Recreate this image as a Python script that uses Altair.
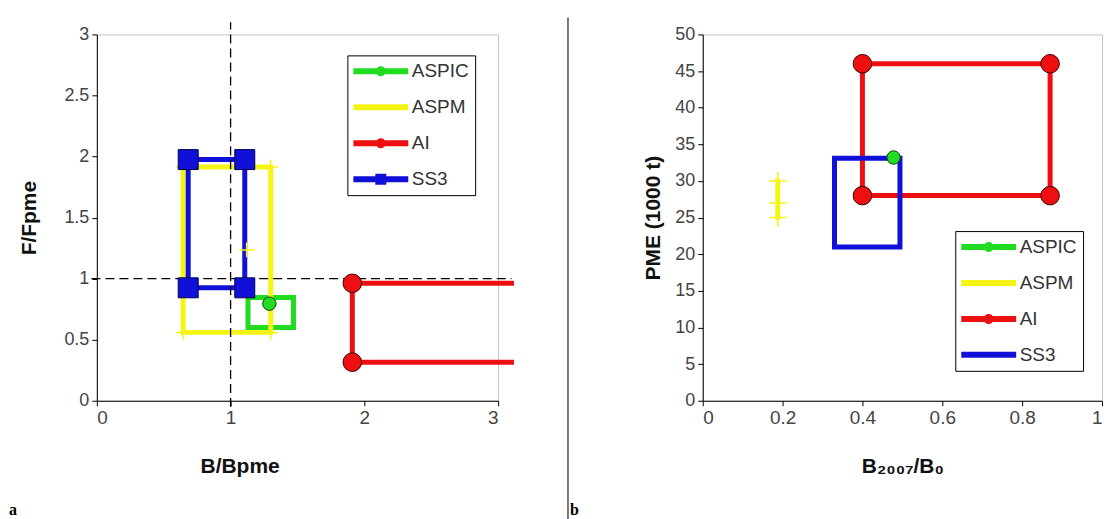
import altair as alt
import pandas as pd

# ---------------- shared ----------------
SERIES = ["ASPIC", "ASPM", "AI", "SS3"]
COLORS = ["#22dc22", "#f5f515", "#ee1010", "#1010d8"]
FONT = "Liberation Sans"

# ---------------- panel a : F/Fpme vs B/Bpme ----------------
A_ASPIC_BOX_X = [1.13, 1.47, 1.47, 1.13, 1.13]
A_ASPIC_BOX_Y = [0.845, 0.845, 0.60, 0.60, 0.845]
A_ASPIC_PT_X = [1.29]
A_ASPIC_PT_Y = [0.795]

A_ASPM_BOX_X = [0.645, 1.30, 1.30, 0.645, 0.645]
A_ASPM_BOX_Y = [1.915, 1.915, 0.56, 0.56, 1.915]
A_ASPM_PT_X = [0.645, 1.30, 1.30, 0.645, 1.12]
A_ASPM_PT_Y = [1.915, 1.915, 0.56, 0.56, 1.235]

A_AI_LINE_X = [3.10, 1.91, 1.91, 3.10]
A_AI_LINE_Y = [0.962, 0.962, 0.316, 0.316]
A_AI_PT_X = [1.91, 1.91]
A_AI_PT_Y = [0.962, 0.316]

A_SS3_BOX_X = [0.683, 1.106, 1.106, 0.683, 0.683]
A_SS3_BOX_Y = [1.975, 1.975, 0.925, 0.925, 1.975]
A_SS3_PT_X = [0.683, 1.106, 1.106, 0.683]
A_SS3_PT_Y = [1.975, 1.975, 0.925, 0.925]

A_VREF_X = [1, 1]
A_VREF_Y = [-0.05, 3.10]
A_HREF_X = [-0.04, 3.10]
A_HREF_Y = [1, 1]

A_X_TICKS = [0, 1, 2, 3]
A_Y_TICKS = [0, 0.5, 1, 1.5, 2, 2.5, 3]

# ---------------- panel b : PME vs B2007/B0 ----------------
B_AI_BOX_X = [0.40, 0.87, 0.87, 0.40, 0.40]
B_AI_BOX_Y = [46, 46, 28, 28, 46]
B_AI_PT_X = [0.40, 0.87, 0.87, 0.40]
B_AI_PT_Y = [46, 46, 28, 28]

B_SS3_BOX_X = [0.33, 0.494, 0.494, 0.33, 0.33]
B_SS3_BOX_Y = [33.1, 33.1, 21.0, 21.0, 33.1]

B_ASPIC_PT_X = [0.478]
B_ASPIC_PT_Y = [33.2]

B_ASPM_X = [0.188, 0.188, 0.188]
B_ASPM_Y = [30, 27, 25]

B_X_TICKS = [0, 0.2, 0.4, 0.6, 0.8, 1]
B_Y_TICKS = [0, 5, 10, 15, 20, 25, 30, 35, 40, 45, 50]

# legend symbols (line sample with optional marker); symbol unit = 10 px
LINE = "M-2.75,-0.3L2.75,-0.3L2.75,0.3L-2.75,0.3Z"
DOT = "M0.5,0A0.5,0.5,0,1,1,-0.5,0A0.5,0.5,0,1,1,0.5,0Z"
SQR = "M-0.55,-0.55L0.55,-0.55L0.55,0.55L-0.55,0.55Z"
A_LEGEND_SHAPES = [LINE + DOT, LINE, LINE + DOT, LINE + SQR]
B_LEGEND_SHAPES = [LINE + DOT, LINE, LINE + DOT, LINE]

CROSS = "M-1,0L1,0M0,-1L0,1"


def line_layer(xs, ys, color, xe, ye, width=5, dash=None):
    df = pd.DataFrame({"x": xs, "y": ys, "order": list(range(len(xs)))})
    kw = dict(color=color, strokeWidth=width, clip=False,
              strokeJoin="miter", strokeCap="square")
    if dash:
        kw["strokeDash"] = dash
        kw["strokeCap"] = "butt"
    return alt.Chart(df).mark_line(**kw).encode(x=xe, y=ye, order="order:Q")


def point_layer(xs, ys, xe, ye, **mark):
    df = pd.DataFrame({"x": xs, "y": ys})
    return alt.Chart(df).mark_point(clip=False, opacity=1, **mark).encode(x=xe, y=ye)


def legend_layer(shapes, lx, ly):
    lg = alt.Legend(title=None, orient="none", legendX=lx, legendY=ly,
                    strokeColor="black", fillColor="white", padding=6,
                    rowPadding=16, symbolSize=400, symbolStrokeWidth=0,
                    symbolOffset=17.5, symbolOpacity=1, labelFont=FONT,
                    labelFontSize=19, labelColor="#333", labelOffset=21)
    return alt.Chart(pd.DataFrame({"series": SERIES})).mark_point(
        filled=True, opacity=0).encode(
        color=alt.Color("series:N", scale=alt.Scale(domain=SERIES, range=COLORS), legend=lg),
        shape=alt.Shape("series:N", scale=alt.Scale(domain=SERIES, range=shapes), legend=lg),
    )


def text_layer(txt, px, py):
    return alt.Chart(pd.DataFrame({"t": [txt]})).mark_text(
        align="left", baseline="alphabetic", font="Liberation Serif",
        fontWeight="bold", fontSize=16, color="black").encode(
        x=alt.value(px), y=alt.value(py), text="t:N")


# ---------------- panel a ----------------
ax_x = alt.X("x:Q", scale=alt.Scale(domain=[0, 3], nice=False, zero=False),
             axis=alt.Axis(values=A_X_TICKS, format="~g", title="B/Bpme",
                           titleX=143, titleY=66, titleBaseline="middle"))
ax_y = alt.Y("y:Q", scale=alt.Scale(domain=[0, 3], nice=False, zero=False),
             axis=alt.Axis(values=A_Y_TICKS, format="~g", title="F/Fpme",
                           titleX=-67, titleY=183.5, titleBaseline="middle",
                           titleAlign="center"))

left = alt.layer(
    line_layer(A_ASPIC_BOX_X, A_ASPIC_BOX_Y, COLORS[0], ax_x, ax_y),
    line_layer(A_ASPM_BOX_X, A_ASPM_BOX_Y, COLORS[1], ax_x, ax_y),
    line_layer(A_AI_LINE_X, A_AI_LINE_Y, COLORS[2], ax_x, ax_y),
    line_layer(A_SS3_BOX_X, A_SS3_BOX_Y, COLORS[3], ax_x, ax_y),
    line_layer(A_VREF_X, A_VREF_Y, "black", ax_x, ax_y, width=1.3, dash=[9, 5]),
    line_layer(A_HREF_X, A_HREF_Y, "black", ax_x, ax_y, width=1.3, dash=[9, 5]),
    point_layer(A_ASPM_PT_X, A_ASPM_PT_Y, ax_x, ax_y, shape=CROSS, filled=False,
                color=COLORS[1], size=220, strokeWidth=1.5),
    point_layer(A_ASPIC_PT_X, A_ASPIC_PT_Y, ax_x, ax_y, shape="circle", filled=True,
                fill=COLORS[0], stroke="#0c3a0c", strokeWidth=1, size=180),
    point_layer(A_AI_PT_X, A_AI_PT_Y, ax_x, ax_y, shape="circle", filled=True,
                fill=COLORS[2], stroke="#3a0000", strokeWidth=1, size=346),
    point_layer(A_SS3_PT_X, A_SS3_PT_Y, ax_x, ax_y, shape="square", filled=True,
                fill=COLORS[3], stroke="#00004a", strokeWidth=1, size=400),
    legend_layer(A_LEGEND_SHAPES, 251, 21),
    text_layer("a", -88, 481),
).properties(width=402, height=367)

# ---------------- panel b ----------------
bx_x = alt.X("x:Q", scale=alt.Scale(domain=[0, 1], nice=False, zero=False),
             axis=alt.Axis(values=B_X_TICKS, format="~g", title="B₂₀₀₇/B₀",
                           titleX=200, titleY=66, titleBaseline="middle"))
bx_y = alt.Y("y:Q", scale=alt.Scale(domain=[0, 50], nice=False, zero=False),
             axis=alt.Axis(values=B_Y_TICKS, format="~g", title="PME (1000 t)",
                           titleX=-49, titleY=183.5, titleBaseline="middle",
                           titleAlign="center"))

sep = alt.Chart(pd.DataFrame({"d": [0]})).mark_rule(
    color="#222", strokeWidth=1.2).encode(
    x=alt.value(-135), y=alt.value(-17), y2=alt.value(495))

right = alt.layer(
    line_layer(B_AI_BOX_X, B_AI_BOX_Y, COLORS[2], bx_x, bx_y),
    line_layer(B_SS3_BOX_X, B_SS3_BOX_Y, COLORS[3], bx_x, bx_y),
    line_layer(B_ASPM_X, B_ASPM_Y, COLORS[1], bx_x, bx_y),
    point_layer(B_ASPM_X, B_ASPM_Y, bx_x, bx_y, shape=CROSS, filled=False,
                color=COLORS[1], size=320, strokeWidth=1.5),
    point_layer(B_AI_PT_X, B_AI_PT_Y, bx_x, bx_y, shape="circle", filled=True,
                fill=COLORS[2], stroke="#3a0000", strokeWidth=1, size=346),
    point_layer(B_ASPIC_PT_X, B_ASPIC_PT_Y, bx_x, bx_y, shape="circle", filled=True,
                fill=COLORS[0], stroke="#0c3a0c", strokeWidth=1, size=180),
    legend_layer(B_LEGEND_SHAPES, 253, 197),
    sep,
    text_layer("b", -133, 481),
).properties(width=400, height=367)

chart = alt.hconcat(left, right, spacing=205, bounds="flush").resolve_scale(
    color="independent", shape="independent"
).properties(
    padding={"left": 0, "top": 7, "right": 0, "bottom": 0}
).configure_view(
    stroke="#c4c4c4", strokeWidth=1
).configure_axis(
    labelFont=FONT, labelFontSize=18, labelColor="#444", labelPadding=3,
    titleFont=FONT, titleFontSize=21, titleFontWeight="bold", titleColor="#111",
    domainColor="black", domainWidth=1, tickColor="black", tickSize=5, grid=False,
).configure_axisX(labelFontSize=19)

chart.save("out.html", embed_options={"renderer": "svg", "actions": False})
